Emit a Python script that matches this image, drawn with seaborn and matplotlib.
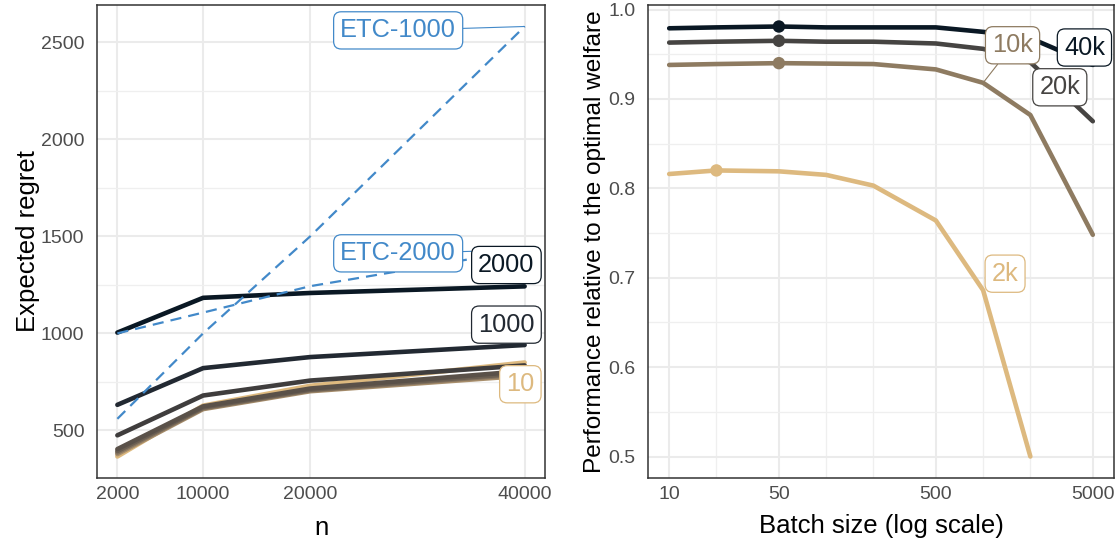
import numpy as np
import pandas as pd
import matplotlib
matplotlib.use("Agg")
import matplotlib.pyplot as plt
from matplotlib.ticker import FixedLocator, FixedFormatter, NullFormatter
import seaborn as sns

sns.set_theme(style="whitegrid")
plt.rcParams["font.family"] = ["Liberation Sans", "DejaVu Sans"]

# ---- Left panel: expected regret against the horizon n, one line per batch size
horizons = [2000, 10000, 20000, 40000]
batch_sizes = [10, 20, 50, 100, 200, 500, 1000, 2000]
regret_b10 = [366, 628, 730, 850]
regret_b20 = [378, 610, 702, 782]
regret_b50 = [386, 614, 706, 790]
regret_b100 = [394, 618, 710, 796]
regret_b200 = [404, 624, 716, 806]
regret_b500 = [475, 680, 757, 835]
regret_b1000 = [632, 821, 878, 940]
regret_b2000 = [1004, 1183, 1208, 1242]
regret_etc1000 = [560, 1000, 1500, 2580]
regret_etc2000 = [1000, 1107, 1243, 1430]

# ---- Right panel: share of optimal welfare against batch size, one line per n
batch_grid = [10, 20, 50, 100, 200, 500, 1000, 2000, 5000]
horizon_names = ["2k", "10k", "20k", "40k"]
welfare_2k = [0.816, 0.820, 0.819, 0.815, 0.803, 0.764, 0.686, 0.500]
welfare_10k = [0.938, 0.939, 0.940, 0.9395, 0.939, 0.933, 0.918, 0.882, 0.748]
welfare_20k = [0.963, 0.964, 0.965, 0.964, 0.964, 0.962, 0.956, 0.941, 0.875]
welfare_40k = [0.979, 0.980, 0.981, 0.980, 0.980, 0.980, 0.975, 0.968, 0.938]

batch_colors = {
    "10": "#DDB97F", "20": "#A88E6B", "50": "#857460", "100": "#6B5F52",
    "200": "#5A5149", "500": "#3F3D3D", "1000": "#222932", "2000": "#0A1824",
}
horizon_colors = {"2k": "#DDB97F", "10k": "#8E7B61", "20k": "#464442", "40k": "#0A1824"}
etc_color = "#4289C9"

regret_rows = [regret_b10, regret_b20, regret_b50, regret_b100,
               regret_b200, regret_b500, regret_b1000, regret_b2000]
regret_df = pd.DataFrame(
    [(str(b), n, r) for b, row in zip(batch_sizes, regret_rows) for n, r in zip(horizons, row)],
    columns=["batch", "n", "regret"],
)
etc_df = pd.DataFrame(
    [(name, n, r) for name, row in [("ETC-1000", regret_etc1000), ("ETC-2000", regret_etc2000)]
     for n, r in zip(horizons, row)],
    columns=["policy", "n", "regret"],
)
welfare_rows = [welfare_2k, welfare_10k, welfare_20k, welfare_40k]
welfare_df = pd.DataFrame(
    [(h, b, w) for h, row in zip(horizon_names, welfare_rows) for b, w in zip(batch_grid, row)],
    columns=["horizon", "batch", "welfare"],
)

fig = plt.figure(figsize=(11.19, 5.44), dpi=100)
ax1 = fig.add_axes([97 / 1119, 66 / 544, 448 / 1119, 473 / 544])
ax2 = fig.add_axes([648 / 1119, 66 / 544, 466 / 1119, 473 / 544])

TICK_FS = 14
TITLE_FS = 18.5
TAG_FS = 18.3


def style_axes(ax):
    ax.set_facecolor("white")
    for s in ax.spines.values():
        s.set_visible(True)
        s.set_color("#333333")
        s.set_linewidth(1.1)
    ax.tick_params(which="both", length=0, labelsize=TICK_FS, labelcolor="#4D4D4D")
    ax.tick_params(axis="y", pad=9)
    ax.tick_params(axis="x", pad=6)
    ax.grid(which="major", color="#EBEBEB", linewidth=1.5)
    ax.grid(which="minor", color="#EFEFEF", linewidth=0.9)
    ax.set_axisbelow(True)


def tag(ax, text, xy, xytext, color, z=6, leader=False):
    ax.annotate(
        text, xy=xy, xytext=xytext, textcoords="data", ha="center", va="center",
        fontsize=TAG_FS, color=color, zorder=z,
        bbox=dict(boxstyle="round,pad=0.26,rounding_size=0.3", fc="white", ec=color, lw=0.9),
        arrowprops=(dict(arrowstyle="-", color=color, lw=0.8, shrinkA=0, shrinkB=0)
                    if leader else None),
    )


# ---------------- Left panel ----------------
sns.lineplot(data=regret_df, x="n", y="regret", hue="batch",
             hue_order=[str(b) for b in batch_sizes], palette=batch_colors,
             linewidth=3.3, legend=False, estimator=None, ax=ax1)
sns.lineplot(data=etc_df, x="n", y="regret", hue="policy",
             palette={"ETC-1000": etc_color, "ETC-2000": etc_color},
             linewidth=1.6, linestyle=(0, (5, 3.2)), legend=False, estimator=None, ax=ax1)

all_regret = np.concatenate([np.ravel(regret_rows), regret_etc1000, regret_etc2000])
lo, hi = all_regret.min(), all_regret.max()
ax1.set_ylim(lo - 0.05 * (hi - lo), hi + 0.05 * (hi - lo))
xr = horizons[-1] - horizons[0]
ax1.set_xlim(horizons[0] - 0.05 * xr, horizons[-1] + 0.05 * xr)
style_axes(ax1)
ax1.xaxis.set_major_locator(FixedLocator(horizons))
ax1.xaxis.set_major_formatter(FixedFormatter([str(h) for h in horizons]))
ax1.yaxis.set_major_locator(FixedLocator([500, 1000, 1500, 2000, 2500]))
ax1.yaxis.set_major_formatter(FixedFormatter(["500", "1000", "1500", "2000", "2500"]))
ax1.yaxis.set_minor_locator(FixedLocator([750, 1250, 1750, 2250]))
ax1.yaxis.set_minor_formatter(NullFormatter())
ax1.set_xlabel("n", fontsize=TITLE_FS, color="black", labelpad=9)
ax1.set_ylabel("Expected regret", fontsize=TITLE_FS, color="black", labelpad=1)

last_n = horizons[-1]
tag(ax1, "ETC-1000", (last_n, regret_etc1000[-1]), (28200, 2560), etc_color, z=5, leader=True)
tag(ax1, "ETC-2000", (last_n, regret_etc2000[-1]), (28200, 1412), etc_color, z=5, leader=True)
tag(ax1, "2000", (last_n, regret_b2000[-1]), (38300, 1352), batch_colors["2000"], z=7)
tag(ax1, "1000", (last_n, regret_b1000[-1]), (38300, 1045), batch_colors["1000"], z=7)
tag(ax1, "10", (last_n, regret_b10[-1]), (39600, 738), batch_colors["10"], z=7)

# ---------------- Right panel ----------------
sns.lineplot(data=welfare_df, x="batch", y="welfare", hue="horizon",
             hue_order=horizon_names, palette=horizon_colors,
             linewidth=3.3, legend=False, estimator=None, ax=ax2)
best = welfare_df.loc[welfare_df.groupby("horizon")["welfare"].idxmax()]
sns.scatterplot(data=best, x="batch", y="welfare", hue="horizon",
                hue_order=horizon_names, palette=horizon_colors,
                s=80, edgecolor="none", legend=False, ax=ax2, zorder=4)

ax2.set_xscale("log")
lx = np.log10(batch_grid)
lxr = lx[-1] - lx[0]
ax2.set_xlim(10 ** (lx[0] - 0.05 * lxr), 10 ** (lx[-1] + 0.05 * lxr))
wmin = welfare_df["welfare"].min()
wmax = welfare_df["welfare"].max()
ax2.set_ylim(wmin - 0.05 * (wmax - wmin), wmax + 0.05 * (wmax - wmin))
style_axes(ax2)
major_x = [10, 50, 500, 5000]
ax2.xaxis.set_major_locator(FixedLocator(major_x))
ax2.xaxis.set_major_formatter(FixedFormatter([str(v) for v in major_x]))
ax2.xaxis.set_minor_locator(FixedLocator([b for b in batch_grid if b not in major_x]))
ax2.xaxis.set_minor_formatter(NullFormatter())
yt = [0.5, 0.6, 0.7, 0.8, 0.9, 1.0]
ax2.yaxis.set_major_locator(FixedLocator(yt))
ax2.yaxis.set_major_formatter(FixedFormatter([f"{v:.1f}" for v in yt]))
ax2.yaxis.set_minor_locator(FixedLocator([0.55, 0.65, 0.75, 0.85, 0.95]))
ax2.yaxis.set_minor_formatter(NullFormatter())
ax2.set_xlabel("Batch size (log scale)", fontsize=TITLE_FS, color="black", labelpad=8)
ax2.set_ylabel("Performance relative to the optimal welfare", fontsize=17.6,
               color="black", labelpad=2)

tag(ax2, "10k", (1000, welfare_10k[6]), (1540, 0.960), horizon_colors["10k"], leader=True)
tag(ax2, "40k", (5000, welfare_40k[8]), (4420, 0.9575), horizon_colors["40k"])
tag(ax2, "20k", (2000, welfare_20k[7]), (3080, 0.913), horizon_colors["20k"])
tag(ax2, "2k", (1000, welfare_2k[6]), (1380, 0.7045), horizon_colors["2k"])

fig.savefig("out.png", dpi=100)
